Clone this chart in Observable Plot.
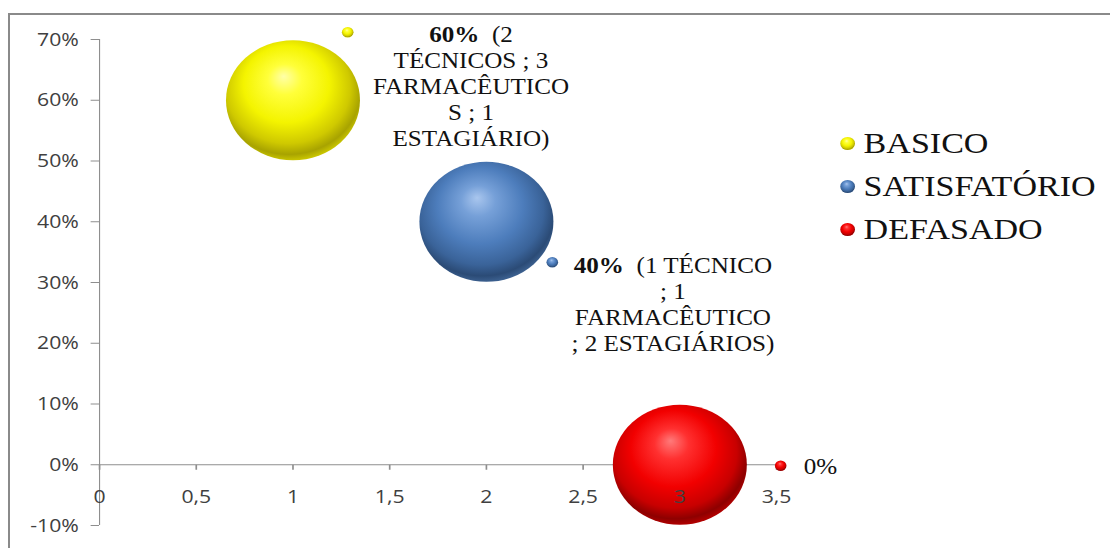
<!DOCTYPE html>
<html>
<head>
<meta charset="utf-8">
<script src="https://cdn.jsdelivr.net/npm/d3@7"></script>
<script src="https://cdn.jsdelivr.net/npm/@observablehq/plot@0.6"></script>
<style>
  html, body { margin: 0; padding: 0; background: #fff; }
  #wrap { position: relative; width: 1110px; height: 548px; overflow: hidden; }
  #chart { position: absolute; left: 0; top: 0; }
  #chart svg { transform: scaleX(1.1167); transform-origin: 0 0; }
  #border { position: absolute; left: 8px; top: 13px; right: -10px; bottom: -10px;
            border-left: 2px solid #8a8a8a; border-top: 2px solid #8a8a8a; pointer-events: none; }
</style>
</head>
<body>
<div id="wrap"><div id="chart"></div><div id="border"></div></div>
<script>
// Knowledge level of the pharmacy staff
const categories = ["BASICO", "SATISFATÓRIO", "DEFASADO"];
const xValues = [1, 2, 3];
const shares = [0.6, 0.4, 0];
const compositions = [
  "(2\nTÉCNICOS ; 3\nFARMACÊUTICO\nS ; 1\nESTAGIÁRIO)",
  "(1 TÉCNICO\n; 1\nFARMACÊUTICO\n; 2 ESTAGIÁRIOS)",
  ""
];
const xTicks = [0, 0.5, 1, 1.5, 2, 2.5, 3, 3.5];
const yTicks = [-0.1, 0, 0.1, 0.2, 0.3, 0.4, 0.5, 0.6, 0.7];

// sphere shading per series: [offset, colour]
const sphereStops = [
  [[0, "#ffffa8"], [0.22, "#ffff3a"], [0.55, "#f4f400"], [0.8, "#cfc900"], [0.93, "#a8a300"], [1, "#c8c400"]],
  [[0, "#a9c6ee"], [0.22, "#76a0d8"], [0.55, "#4d7dbc"], [0.8, "#3a6399"], [0.93, "#2b4b76"], [1, "#3b5f8e"]],
  [[0, "#ff7a7a"], [0.22, "#ff3030"], [0.55, "#f20000"], [0.8, "#c80000"], [0.93, "#8e0000"], [1, "#b00000"]]
];

const stretch = 1.1167;
const W = 1110 / stretch;
const pct = d => `${Math.round(d * 100)}%`;

const rows = categories.map((c, i) => ({
  category: c,
  x: xValues[i],
  y: shares[i],
  i,
  label: (pct(shares[i]) + " " + compositions[i]).trim()
}));

// small downward tick used along the zero line
const tickDown = {
  draw(ctx, size) {
    const l = Math.sqrt(size / Math.PI);
    ctx.moveTo(0, 0);
    ctx.lineTo(0, l);
  }
};

const sphere = i => `url(#sphere-${i})`;
const axisGrey = "#8e8e8e";
const ink = "#111111";
const sansFont = "'Open Sans', 'Noto Sans', sans-serif";
const serifFont = "'Liberation Serif', serif";

// label placement around each bubble (pixels)
const keyOffset = [[49, -68], [59, 40.5], [90.3, 1]];
const textOffset = [
  {dx: 159.4, dy: -14.5, textAnchor: "middle"},
  {dx: 167, dy: 82, textAnchor: "middle"},
  {dx: 110.9, dy: 1, textAnchor: "start"}
];
const legendDy = [104, 147, 190];

const marks = [
  Plot.ruleX([0], {stroke: axisGrey}),
  Plot.ruleY([0], {stroke: axisGrey}),
  Plot.dot(xTicks, {x: d => d, y: 0, r: 5, symbol: tickDown, stroke: axisGrey, fill: "none"}),
  Plot.axisY(yTicks, {
    tickSize: 7.5, tickPadding: 11, tickFormat: pct,
    stroke: axisGrey, fill: "#404040", fontSize: 19, fontFamily: sansFont
  })
];

rows.forEach((d, i) => {
  marks.push(Plot.dot([d], {x: "x", y: "y", r: 60, fill: sphere(i), stroke: "none"}));
  marks.push(Plot.dot([d], {x: "x", y: "y", r: 5.2, dx: keyOffset[i][0], dy: keyOffset[i][1], fill: sphere(i), stroke: "none"}));
  marks.push(Plot.text([d], {
    x: "x", y: "y", text: "label", ...textOffset[i],
    lineAnchor: "middle", lineHeight: 1.156,
    fontFamily: serifFont, fontSize: 22.5, fill: ink
  }));
});

marks.push(Plot.text(xTicks, {
  x: d => d, y: 0, dy: 32, text: d => String(d).replace(".", ","),
  fontFamily: sansFont, fontSize: 19, fill: "#404040"
}));

// legend on the right
categories.forEach((c, i) => {
  marks.push(Plot.dot([c], {frameAnchor: "top-left", dx: 669.9, dy: legendDy[i], r: 6.6, fill: sphere(i), stroke: "none"}));
  marks.push(Plot.text([c], {
    frameAnchor: "top-left", dx: 684.2, dy: legendDy[i], text: d => d,
    textAnchor: "start", lineAnchor: "middle",
    fontFamily: serifFont, fontSize: 30.5, fill: ink
  }));
});

const chart = Plot.plot({
  width: W,
  height: 548,
  marginLeft: 88.65,
  marginRight: W - 694.9,
  marginTop: 39,
  marginBottom: 23,
  x: {domain: [0, 3.5], axis: null, label: null},
  y: {domain: [-0.1, 0.7], label: null},
  style: {background: "transparent", overflow: "visible"},
  marks
});

// radial gradients giving the bubbles their spherical look
const svg = d3.select(chart);
const defs = svg.insert("defs", ":first-child");
sphereStops.forEach((stops, i) => {
  const g = defs.append("radialGradient")
    .attr("id", `sphere-${i}`)
    .attr("cx", 0.47).attr("cy", 0.42).attr("r", 0.58)
    .attr("fx", 0.43).attr("fy", 0.3);
  stops.forEach(([o, c]) => g.append("stop").attr("offset", o).attr("stop-color", c));
});

// pin each text's font family inline; bold percentage at the start of bubble labels
svg.selectAll("text").each(function () {
  const holder = this.closest("[font-family]");
  this.style.fontFamily = holder ? holder.getAttribute("font-family") : sansFont;
  const first = this.querySelector("tspan") || this;
  const txt = first.textContent;
  const m = txt.match(/^(\d+%)( \(.*)$/);
  if (!m) return;
  first.textContent = "";
  d3.select(first).append("tspan").attr("font-weight", "bold").text(m[1]);
  d3.select(first).append("tspan").text(" " + m[2]);
});

document.getElementById("chart").appendChild(chart);
</script>
</body>
</html>
